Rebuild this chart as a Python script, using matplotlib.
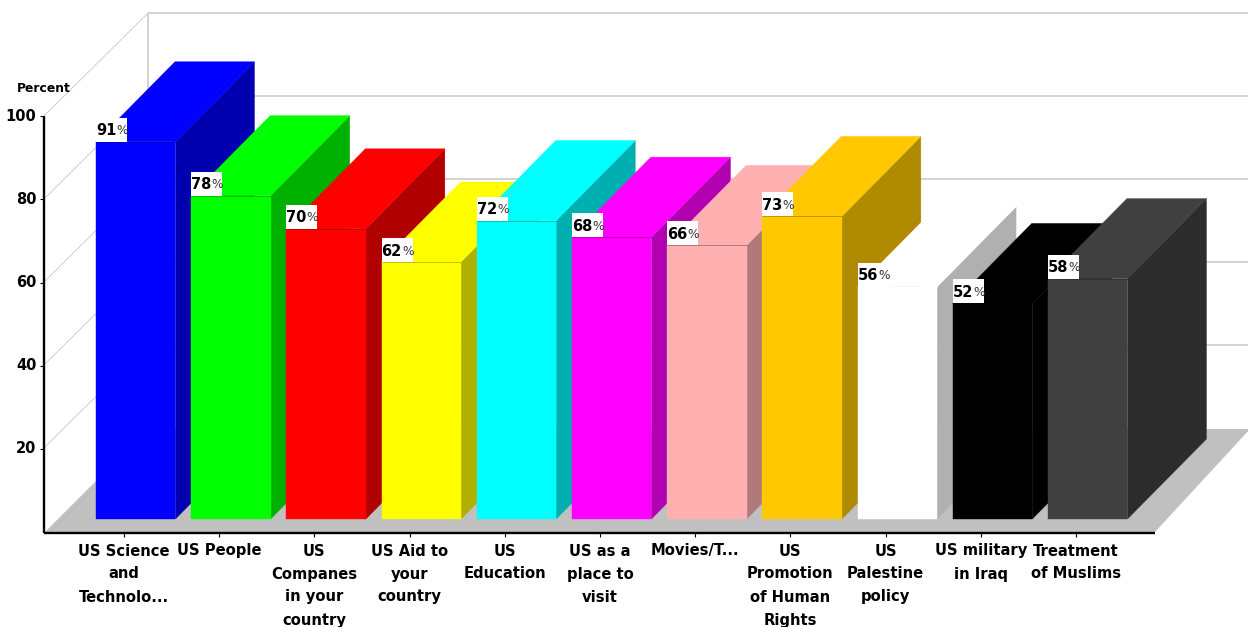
import matplotlib
matplotlib.use("Agg")
import matplotlib.pyplot as plt
from matplotlib.patches import Polygon, Rectangle

categories = [
    "US Science\nand\nTechnolo...", "US People", "US\nCompanes\nin your\ncountry",
    "US Aid to\nyour\ncountry", "US\nEducation", "US as a\nplace to\nvisit", "Movies/T...",
    "US\nPromotion\nof Human\nRights", "US\nPalestine\npolicy", "US military\nin Iraq",
    "Treatment\nof Muslims",
]
values = [91, 78, 70, 62, 72, 68, 66, 73, 56, 52, 58]
front_colors = ["#0000ff", "#00ff00", "#ff0000", "#ffff00", "#00ffff", "#ff00ff",
                "#ffb0b0", "#ffc800", "#ffffff", "#000000", "#404040"]
side_colors = ["#0000b0", "#00b000", "#b00000", "#b0b000", "#00b0b0", "#b000b0",
               "#b07a7a", "#b08a00", "#b0b0b0", "#000000", "#2c2c2c"]
edge_colors = ["#0000c0", "#00c000", "#c00000", "#c0c000", "#00c0c0", "#c000c0",
               "#b07a7a", "#c09800", "#ffffff", "#000000", "#333333"]
y_ticks = [20, 40, 60, 80, 100]

W, H = 1248, 627
fig = plt.figure(figsize=(W / 100, H / 100), dpi=100, facecolor="white")
ax = fig.add_axes([0, 0, 1, 1])
ax.axis("off")

STEP, X0 = 95.2, 135.7      # px per category, px of first bar centre
PPU, Y0 = 4.145, 519.0      # px per percent, px of zero at the bar foot
ax.set_xlim((0 - X0) / STEP, (W - X0) / STEP)
ax.set_ylim((Y0 - H) / PPU, Y0 / PPU)


def X(px):
    return (px - X0) / STEP


def Y(py):
    return (Y0 - py) / PPU


def poly(pts, **kw):
    ax.add_patch(Polygon([(X(a), Y(b)) for a, b in pts], closed=True, **kw))


def line(xs, ys, **kw):
    ax.plot([X(a) for a in xs], [Y(b) for b in ys], solid_capstyle="butt", **kw)


FONT = "DejaVu Sans"
GRID = "#c8c8c8"
# floor
poly([(45, 532), (1155, 532), (1250, 429), (148, 429)], facecolor="#c0c0c0", edgecolor="none", zorder=1)
# walls
wall_y = [13, 96, 179, 262, 345]
for wy in wall_y:
    line([148, W], [wy, wy], color=GRID, lw=1.1, zorder=1)
    line([44, 148], [wy + 103, wy], color=GRID, lw=0.6, zorder=1)
line([148, 148], [13, 429], color=GRID, lw=1.1, zorder=1)

# bars
w = 79.5 / STEP
dx, dy = 79 / STEP, 80 / PPU
for i, (v, fc, sc, ec) in enumerate(zip(values, front_colors, side_colors, edge_colors)):
    z = 3 + i
    ax.add_patch(Polygon([(i + w / 2, 0), (i + w / 2 + dx, dy), (i + w / 2 + dx, v + dy), (i + w / 2, v)],
                         facecolor=sc, edgecolor=sc, lw=0.3, zorder=z))
    ax.add_patch(Polygon([(i - w / 2, v), (i + w / 2, v), (i + w / 2 + dx, v + dy), (i - w / 2 + dx, v + dy)],
                         facecolor=fc, edgecolor=fc, lw=0.3, zorder=z))
    ax.bar(i, v, width=w, color=fc, edgecolor=fc, lw=0.3, zorder=z)
    ax.plot([i - w / 2, i + w / 2], [v, v], color=ec, lw=0.7, zorder=z, solid_capstyle="butt")
    # value label on white box
    bx = i - w / 2
    ax.add_patch(Rectangle((bx, v), 31 / STEP, 24 / PPU, facecolor="white", edgecolor="none", zorder=z + 0.1))
    ty = v + 11 / PPU
    ax.text(bx, ty, str(v), family=FONT, fontweight="bold", fontsize=10.5, color="black",
            ha="left", va="center", zorder=z + 0.2)
    ax.text(bx + 20.5 / STEP, ty, "%", family=FONT, fontsize=8.8, color="#333333",
            ha="left", va="center", zorder=z + 0.2)

# axes
line([44, 1155], [532.5, 532.5], color="black", lw=1.7, zorder=20)
line([44, 44], [116, 533], color="black", lw=1.7, zorder=20)
for i, cat in enumerate(categories):
    tx = X(124 + i * STEP)
    line([124 + i * STEP] * 2, [533, 537], color="black", lw=0.8, zorder=20)
    for k, part in enumerate(cat.split("\n")):
        ax.text(tx, Y(551 + 23 * k), part, family=FONT, fontweight="bold", fontsize=10.6,
                color="black", ha="center", va="center", zorder=21)
for t, py in zip(y_ticks, [448.5, 365.5, 282.5, 199.5, 116.5]):
    line([40, 44], [py, py], color="black", lw=0.8, zorder=20)
    ax.text(X(36.5), Y(py), str(t), family=FONT, fontweight="bold", fontsize=10.5,
            color="black", ha="right", va="center", zorder=21)
ax.text(X(17), Y(89), "Percent", family=FONT, fontweight="bold", fontsize=8.9,
        color="black", ha="left", va="center", zorder=21)

fig.savefig("out.png", dpi=100, facecolor="white")
